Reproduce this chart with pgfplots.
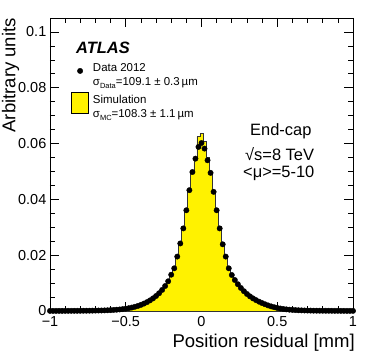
\documentclass[border=0pt]{standalone}
\usepackage{fontspec}
\setmainfont{Liberation Sans}
\usepackage{pgfplots}
\pgfplotsset{compat=1.18}
\usepackage{pgfplotstable}

% bin centre, data, simulation
\pgfplotstableread{
x data mc
-1.00 0.00003 0.00003
-0.98 0.00003 0.00004
-0.96 0.00004 0.00004
-0.94 0.00004 0.00004
-0.92 0.00004 0.00005
-0.90 0.00005 0.00005
-0.88 0.00005 0.00005
-0.86 0.00006 0.00006
-0.84 0.00006 0.00006
-0.82 0.00007 0.00007
-0.80 0.00008 0.00008
-0.78 0.00009 0.00009
-0.76 0.00010 0.00010
-0.74 0.00011 0.00011
-0.72 0.00013 0.00012
-0.70 0.00015 0.00014
-0.68 0.00017 0.00016
-0.66 0.00019 0.00019
-0.64 0.00022 0.00022
-0.62 0.00026 0.00025
-0.60 0.00031 0.00030
-0.58 0.00038 0.00037
-0.56 0.00046 0.00045
-0.54 0.00056 0.00055
-0.52 0.00068 0.00067
-0.50 0.00083 0.00082
-0.48 0.00101 0.00100
-0.46 0.00123 0.00122
-0.44 0.00150 0.00150
-0.42 0.00182 0.00183
-0.40 0.00220 0.00222
-0.38 0.00265 0.00268
-0.36 0.00318 0.00322
-0.34 0.00380 0.00385
-0.32 0.00452 0.00458
-0.30 0.00537 0.00545
-0.28 0.00637 0.00645
-0.26 0.00755 0.00765
-0.24 0.00895 0.00905
-0.22 0.01065 0.01075
-0.20 0.01300 0.01290
-0.18 0.01530 0.01560
-0.16 0.01950 0.01960
-0.14 0.02420 0.02430
-0.12 0.02960 0.02990
-0.10 0.03610 0.03640
-0.08 0.04330 0.04360
-0.06 0.04980 0.05000
-0.04 0.05460 0.05520
-0.02 0.05880 0.06250
0.00 0.06020 0.06360
0.02 0.05820 0.06060
0.04 0.05400 0.05500
0.06 0.04950 0.04980
0.08 0.04270 0.04300
0.10 0.03610 0.03630
0.12 0.02960 0.02980
0.14 0.02390 0.02410
0.16 0.01950 0.01960
0.18 0.01530 0.01560
0.20 0.01290 0.01280
0.22 0.01110 0.01110
0.24 0.00960 0.00960
0.26 0.00825 0.00830
0.28 0.00710 0.00715
0.30 0.00610 0.00615
0.32 0.00525 0.00530
0.34 0.00452 0.00455
0.36 0.00390 0.00392
0.38 0.00334 0.00336
0.40 0.00284 0.00286
0.42 0.00240 0.00242
0.44 0.00200 0.00202
0.46 0.00165 0.00166
0.48 0.00135 0.00136
0.50 0.00110 0.00110
0.52 0.00090 0.00090
0.54 0.00073 0.00073
0.56 0.00059 0.00059
0.58 0.00048 0.00048
0.60 0.00039 0.00039
0.62 0.00032 0.00032
0.64 0.00027 0.00026
0.66 0.00022 0.00022
0.68 0.00019 0.00019
0.70 0.00016 0.00016
0.72 0.00014 0.00014
0.74 0.00012 0.00012
0.76 0.00011 0.00011
0.78 0.00010 0.00010
0.80 0.00009 0.00009
0.82 0.00008 0.00008
0.84 0.00008 0.00007
0.86 0.00007 0.00007
0.88 0.00006 0.00006
0.90 0.00006 0.00006
0.92 0.00005 0.00005
0.94 0.00005 0.00005
0.96 0.00004 0.00004
0.98 0.00004 0.00004
1.00 0.00004 0.00004
}\resid

\newcommand{\lowsub}[1]{\raisebox{-0.45ex}{\fontsize{7.5}{8}\selectfont #1}}
\newcommand{\legtwo}[2]{\fontsize{11.5}{14}\selectfont
  \begin{tabular}{@{}l@{}}#1\tabularnewline #2\end{tabular}}

\begin{document}
\begin{tikzpicture}
\begin{axis}[
  scale only axis,
  width=303bp, height=293bp,
  xmin=-1, xmax=1, ymin=0, ymax=0.105,
  xtick={-1,-0.5,0,0.5,1},
  xticklabels={−1,−0.5,0,0.5,1},
  ytick={0,0.02,0.04,0.06,0.08,0.1},
  yticklabels={0,0.02,0.04,0.06,0.08,0.1},
  minor x tick num=4, minor y tick num=3,
  tick align=inside,
  major tick length=9bp, minor tick length=5bp,
  every tick/.style={black, line width=0.7bp},
  axis line style={line width=0.8bp},
  ticklabel style={font=\fontsize{14.5}{16}\selectfont, inner sep=0pt},
  yticklabel style={xshift=-3.5bp},
  xticklabel style={yshift=-5bp},
  xlabel={Position residual [mm]},
  ylabel={Arbitrary units},
  label style={font=\fontsize{18.6}{20}\selectfont, inner sep=0pt},
  xlabel style={at={(axis description cs:1.0066,-0.1229)}, anchor=base east},
  ylabel style={at={(axis description cs:-0.1139,1)}, anchor=base east},
  legend style={at={(axis description cs:0.0693,0.8583)}, anchor=north west,
    draw=none, fill=none, inner sep=0pt,
    /tikz/row sep=10bp,
    /tikz/column sep=2bp},
  legend cell align=left,
]
\addplot[const plot mark mid, fill=yellow, draw=black!80, line width=0.8bp, forget plot]
  table[x=x, y=mc] {\resid} \closedcycle;
\addplot[only marks, mark=*, mark size=2.7bp, black, forget plot]
  table[x=x, y=data] {\resid};

\addlegendimage{only marks, mark=*, mark size=2.7bp, black}
\addlegendentry{\legtwo{Data 2012}{σ\lowsub{Data}=109.1 ± 0.3\,µm}}
\addlegendimage{legend image code/.code={\draw[fill=yellow, draw=black, line width=0.8bp] (0bp,-10.5bp) rectangle (17bp,10.5bp);}}
\addlegendentry{\legtwo{Simulation}{σ\lowsub{MC}=108.3 ± 1.1\,µm}}

\node[anchor=base west, inner sep=0pt, font=\fontsize{16.5}{18}\selectfont\bfseries\itshape]
  at (axis description cs:0.0858,0.8805) {ATLAS};
\node[anchor=base west, inner sep=0pt, font=\fontsize{16.5}{18}\selectfont]
  at (axis description cs:0.660,0.5997) {End-cap};
\node[anchor=base west, inner sep=0pt, font=\fontsize{16.5}{18}\selectfont]
  at (axis description cs:0.6436,0.512) {√s=8 TeV};
\node[anchor=base west, inner sep=0pt, font=\fontsize{16.5}{18}\selectfont]
  at (axis description cs:0.637,0.4563) {<μ>=5-10};
\end{axis}
\pgfresetboundingbox
\path[use as bounding box] (-50bp,-48bp) rectangle (324bp,311bp);
\end{tikzpicture}
\end{document}
